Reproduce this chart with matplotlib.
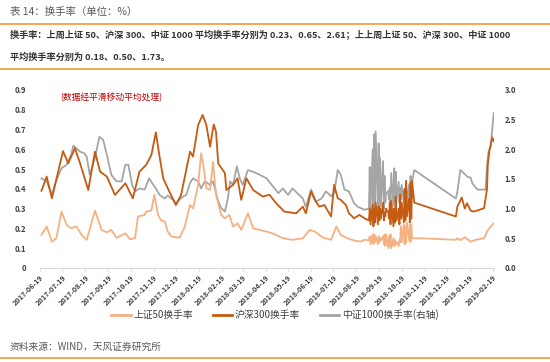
import matplotlib
matplotlib.use('Agg')
import matplotlib.pyplot as plt
import matplotlib.lines as mlines
import pandas as pd

plt.rcParams['font.family'] = ['Noto Sans CJK SC', 'DejaVu Sans']

##########################  DATA  ##############################

sse50_dates = ['2017-06-21', '2017-06-28', '2017-07-05', '2017-07-11', '2017-07-18', '2017-07-25',
               '2017-07-31', '2017-08-07', '2017-08-14', '2017-08-21', '2017-09-01', '2017-09-10',
               '2017-09-17', '2017-09-23', '2017-09-30', '2017-10-12', '2017-10-18', '2017-10-25',
               '2017-10-29', '2017-11-07', '2017-11-09', '2017-11-16', '2017-11-20', '2017-11-25',
               '2017-11-29', '2017-12-04', '2017-12-08', '2017-12-13', '2017-12-24', '2017-12-31',
               '2018-01-07', '2018-01-11', '2018-01-18', '2018-01-22', '2018-01-25', '2018-01-29',
               '2018-02-03', '2018-02-07', '2018-02-09', '2018-02-11', '2018-02-18', '2018-02-23',
               '2018-03-01', '2018-03-06', '2018-03-12', '2018-03-17', '2018-03-26', '2018-04-02',
               '2018-04-11', '2018-04-24', '2018-05-03', '2018-05-12', '2018-05-25', '2018-06-08',
               '2018-06-17', '2018-06-24', '2018-07-05', '2018-07-16', '2018-07-23', '2018-07-29',
               '2018-08-07', '2018-08-16', '2018-08-25', '2018-08-30']
sse50 = [0.167, 0.209, 0.133, 0.150, 0.285, 0.217,
         0.200, 0.210, 0.167, 0.142, 0.290, 0.192,
         0.180, 0.192, 0.152, 0.175, 0.145, 0.150,
         0.260, 0.268, 0.285, 0.290, 0.370, 0.268,
         0.240, 0.234, 0.184, 0.158, 0.153, 0.209,
         0.318, 0.300, 0.420, 0.580, 0.520, 0.403,
         0.395, 0.537, 0.453, 0.369, 0.268, 0.251,
         0.268, 0.209, 0.226, 0.192, 0.276, 0.200,
         0.192, 0.180, 0.167, 0.150, 0.142, 0.150,
         0.192, 0.184, 0.153, 0.142, 0.209, 0.167,
         0.150, 0.138, 0.133, 0.142]

hs300_dates = ['2017-06-21', '2017-06-28', '2017-07-05', '2017-07-20', '2017-07-27', '2017-08-05',
               '2017-08-12', '2017-08-23', '2017-09-01', '2017-09-08', '2017-09-17', '2017-09-28',
               '2017-10-12', '2017-10-22', '2017-10-31', '2017-11-09', '2017-11-16', '2017-11-22',
               '2017-11-27', '2017-12-02', '2017-12-08', '2017-12-19', '2017-12-26', '2018-01-07',
               '2018-01-11', '2018-01-18', '2018-01-24', '2018-01-29', '2018-02-03', '2018-02-08',
               '2018-02-11', '2018-02-14', '2018-02-23', '2018-02-25', '2018-03-06', '2018-03-12',
               '2018-03-17', '2018-03-24', '2018-04-02', '2018-04-15', '2018-04-24', '2018-05-03',
               '2018-05-14', '2018-05-30', '2018-06-08', '2018-06-12', '2018-06-19', '2018-06-24',
               '2018-06-30', '2018-07-07', '2018-07-16', '2018-07-20', '2018-07-25', '2018-07-29',
               '2018-08-05', '2018-08-09', '2018-08-16', '2018-08-23', '2018-08-30']
hs300 = [0.390, 0.462, 0.352, 0.591, 0.529, 0.605,
         0.529, 0.394, 0.588, 0.487, 0.462, 0.369,
         0.428, 0.352, 0.487, 0.521, 0.571, 0.686,
         0.563, 0.453, 0.403, 0.318, 0.369, 0.588,
         0.563, 0.723, 0.774, 0.723, 0.613, 0.726,
         0.689, 0.529, 0.479, 0.394, 0.420, 0.453,
         0.344, 0.453, 0.394, 0.361, 0.370, 0.327,
         0.285, 0.276, 0.310, 0.276, 0.386, 0.344,
         0.310, 0.318, 0.260, 0.420, 0.352, 0.344,
         0.318, 0.276, 0.251, 0.268, 0.251]

csi1000_dates = ['2017-06-21', '2017-06-28', '2017-07-05', '2017-07-11', '2017-07-18', '2017-07-25',
                 '2017-07-31', '2017-08-03', '2017-08-12', '2017-08-18', '2017-08-21', '2017-08-25',
                 '2017-09-01', '2017-09-07', '2017-09-12', '2017-09-17', '2017-09-23', '2017-09-30',
                 '2017-10-07', '2017-10-12', '2017-10-16', '2017-10-21', '2017-10-25', '2017-10-31',
                 '2017-11-07', '2017-11-13', '2017-11-17', '2017-11-22', '2017-11-27', '2017-12-04',
                 '2017-12-08', '2017-12-15', '2017-12-19', '2017-12-26', '2018-01-02', '2018-01-07',
                 '2018-01-11', '2018-01-18', '2018-01-22', '2018-01-27', '2018-02-03', '2018-02-07',
                 '2018-02-14', '2018-02-18', '2018-02-23', '2018-02-27', '2018-03-02', '2018-03-06',
                 '2018-03-11', '2018-03-15', '2018-03-19', '2018-03-26', '2018-04-02', '2018-04-11',
                 '2018-04-20', '2018-04-29', '2018-05-06', '2018-05-12', '2018-05-19', '2018-05-25',
                 '2018-06-03', '2018-06-08', '2018-06-12', '2018-06-19', '2018-06-26', '2018-07-03',
                 '2018-07-09', '2018-07-16', '2018-07-20', '2018-07-25', '2018-07-29', '2018-08-03',
                 '2018-08-09', '2018-08-16', '2018-08-21', '2018-08-30']
csi1000 = [1.51, 1.46, 1.23, 1.48, 1.68, 1.74,
           1.91, 2.06, 1.96, 1.93, 1.87, 1.57,
           1.85, 2.21, 2.16, 1.91, 1.57, 1.46,
           1.46, 1.74, 1.74, 1.40, 1.29, 1.34,
           1.32, 1.51, 1.43, 1.34, 1.23, 1.17,
           1.22, 1.15, 1.09, 1.18, 1.23, 1.43,
           1.51, 1.46, 1.34, 1.46, 1.40, 1.46,
           1.12, 1.01, 0.95, 1.17, 1.46, 1.40,
           1.71, 1.51, 1.40, 1.65, 1.62, 1.57,
           1.51, 1.37, 1.26, 1.34, 1.23, 1.34,
           1.23, 1.17, 1.03, 1.32, 1.12, 1.17,
           1.29, 1.21, 1.26, 1.65, 1.57, 1.32,
           1.29, 1.09, 1.03, 0.98]

# daily swings, 2018-09-05 .. 2018-11-05 (trading days)
swing_start, swing_end = '2018-09-05', '2018-11-05'
swing_sse50 = [0.14, 0.16, 0.12, 0.17, 0.12, 0.17, 0.13, 0.16, 0.12, 0.16, 0.13,
               0.15, 0.14, 0.16, 0.12, 0.17, 0.11, 0.17, 0.10, 0.16, 0.11, 0.17,
               0.10, 0.15, 0.11, 0.14, 0.12, 0.13, 0.11, 0.14, 0.13, 0.21, 0.13,
               0.22, 0.12, 0.21, 0.13, 0.23, 0.14, 0.22, 0.13, 0.22, 0.15, 0.15]
swing_hs300 = [0.24, 0.30, 0.22, 0.32, 0.21, 0.30, 0.23, 0.33, 0.22, 0.31, 0.24,
               0.30, 0.25, 0.33, 0.24, 0.28, 0.26, 0.30, 0.28, 0.25, 0.33, 0.22,
               0.34, 0.21, 0.30, 0.23, 0.36, 0.24, 0.30, 0.22, 0.37, 0.25, 0.33,
               0.23, 0.40, 0.24, 0.44, 0.26, 0.35, 0.23, 0.43, 0.25, 0.44, 0.33]
swing_csi1000 = [1.00, 1.70, 0.95, 2.00, 0.90, 2.25, 1.00, 2.30, 0.95, 2.10, 1.00,
                 1.85, 1.05, 1.80, 1.00, 1.55, 1.10, 1.25, 1.30, 1.15, 1.35, 1.10,
                 1.60, 1.05, 1.68, 1.10, 1.62, 1.15, 1.45, 1.10, 1.35, 1.15, 1.40,
                 1.10, 1.30, 1.15, 1.45, 1.10, 1.40, 1.05, 1.55, 1.15, 1.45, 1.65]

sse50_tail_dates = ['2018-11-12', '2018-12-31', '2019-01-02', '2019-01-06', '2019-01-12', '2019-01-20',
                    '2019-01-27', '2019-02-07', '2019-02-11', '2019-02-16', '2019-02-20']
sse50_tail = [0.150, 0.142, 0.150, 0.140, 0.155, 0.133, 0.142, 0.150, 0.184, 0.209, 0.226]

hs300_tail_dates = ['2018-12-31', '2019-01-02', '2019-01-08', '2019-01-12', '2019-01-15', '2019-01-20',
                    '2019-01-24', '2019-01-27', '2019-02-07', '2019-02-11', '2019-02-12', '2019-02-14',
                    '2019-02-18', '2019-02-20']
hs300_tail = [0.260, 0.310, 0.356, 0.300, 0.327, 0.289, 0.285, 0.288, 0.302, 0.400, 0.520, 0.590,
              0.660, 0.640]

csi1000_tail_dates = ['2018-12-31', '2019-01-02', '2019-01-06', '2019-01-13', '2019-01-15', '2019-01-20',
                      '2019-01-22', '2019-01-29', '2019-02-09', '2019-02-11', '2019-02-13', '2019-02-16',
                      '2019-02-20']
csi1000_tail = [1.17, 1.28, 1.65, 1.57, 1.54, 1.52, 1.43, 1.32, 1.32, 1.74, 1.96, 2.05, 2.61]

legend_labels = ['上证50换手率', '沪深300换手率', '中证1000换手率(右轴)']

##########################  BUILD SERIES  ##############################

swing_dates = pd.bdate_range(swing_start, swing_end)

def buildSeries(headDates, head, swing, tailDates, tail):
    dates = list(pd.to_datetime(headDates)) + list(swing_dates) + list(pd.to_datetime(tailDates))
    return dates, head + swing + tail

x50, y50 = buildSeries(sse50_dates, sse50, swing_sse50, sse50_tail_dates, sse50_tail)
x300, y300 = buildSeries(hs300_dates, hs300, swing_hs300, hs300_tail_dates, hs300_tail)
x1000, y1000 = buildSeries(csi1000_dates, csi1000, swing_csi1000, csi1000_tail_dates, csi1000_tail)

##########################  PLOT  ##############################

c50, c300, c1000 = '#F4B183', '#C55A11', '#A5A5A5'
orange = '#F0A04B'

fig = plt.figure(figsize=(5.5, 3.62), dpi=100)
ax = fig.add_axes([0.0727, 0.26, 0.825, 0.4914])
ax2 = ax.twinx()

ax2.plot(x1000, y1000, color=c1000, lw=1.3, zorder=1)
ax.plot(x300, y300, color=c300, lw=1.3, zorder=3)
ax.plot(x50, y50, color=c50, lw=1.3, zorder=2)
ax.set_zorder(ax2.get_zorder() + 1)
ax.patch.set_visible(False)

ax.set_ylim(0, 0.9)
ax2.set_ylim(0, 3.0)
ax.set_yticks([i / 10 for i in range(10)])
ax.set_yticklabels(['0'] + ['%.1f' % (i / 10) for i in range(1, 10)])
ax2.set_yticks([i / 2 for i in range(7)])
ax2.set_yticklabels(['%.1f' % (i / 2) for i in range(7)])

ticks = pd.date_range('2017-06-19', '2019-02-19', freq=pd.DateOffset(months=1))
ax.set_xticks(ticks)
ax.set_xticklabels([t.strftime('%Y-%m-%d') for t in ticks], rotation=45, ha='right',
                   rotation_mode='anchor', fontsize=5.2, color='#404040', fontweight='bold')
ax.set_xlim(pd.Timestamp('2017-06-19'), pd.Timestamp('2019-02-20'))

for a in (ax, ax2):
    for s in a.spines.values():
        s.set_visible(False)
ax.spines['bottom'].set_visible(True)
ax.spines['bottom'].set_color('#D9D9D9')
ax.tick_params(axis='x', length=2, color='#D9D9D9', pad=2)
ax.tick_params(axis='y', length=0, labelsize=5.5, labelcolor='#404040', pad=10)
ax2.tick_params(axis='y', length=0, labelsize=5.5, labelcolor='#404040', pad=8)
for lbl in ax.get_yticklabels() + ax2.get_yticklabels():
    lbl.set_fontweight('bold')

ax.text(0.045, 0.955, '(数据经平滑移动平均处理)', transform=ax.transAxes, fontsize=6.3,
        color='#C00000', va='center')

handles = [mlines.Line2D([], [], color=c, lw=2) for c in (c50, c300, c1000)]
fig.legend(handles, legend_labels, loc='center', bbox_to_anchor=(0.5, 0.13), ncol=3,
           frameon=False, fontsize=7, handlelength=2.0, columnspacing=2.0, handletextpad=0.3,
           labelcolor='#404040')

# header and footer
fig.text(0.018, 0.967, '表 14：换手率（单位：%）', fontsize=7.5, color='#595959', va='center')
fig.add_artist(mlines.Line2D([0, 1], [0.934, 0.934], color=orange, lw=1.3))
fig.text(0.018, 0.903, '换手率：上周上证 50、沪深 300、中证 1000 平均换手率分别为 0.23、0.65、2.61；上上周上证 50、沪深 300、中证 1000',
         fontsize=6.6, color='#333333', fontweight='bold', va='center')
fig.text(0.018, 0.843, '平均换手率分别为 0.18、0.50、1.73。', fontsize=6.6, color='#333333',
         fontweight='bold', va='center')
fig.add_artist(mlines.Line2D([0, 1], [0.809, 0.809], color=orange, lw=1.3))
fig.text(0.018, 0.041, '资料来源：WIND，天风证券研究所', fontsize=7, color='#595959', va='center')
fig.add_artist(mlines.Line2D([0, 1], [0.011, 0.011], color=orange, lw=1.3))

fig.savefig('out.png', dpi=100)
